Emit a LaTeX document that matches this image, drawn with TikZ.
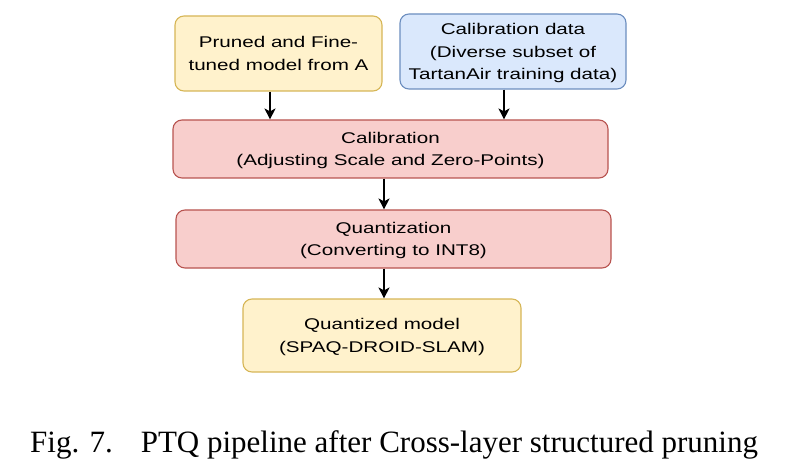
\documentclass[tikz,border=0pt]{standalone}
\usepackage{fontspec}
\setmainfont{Liberation Serif}
\setsansfont{Liberation Sans}
\newfontfamily\boxfont[FakeStretch=1.33]{Liberation Sans}
\usepackage{tikz}
\usetikzlibrary{arrows.meta}
\definecolor{yfill}{HTML}{FFF2CC}
\definecolor{ydraw}{HTML}{D6B656}
\definecolor{bfill}{HTML}{DAE8FC}
\definecolor{bdraw}{HTML}{6C8EBF}
\definecolor{rfill}{HTML}{F8CECC}
\definecolor{rdraw}{HTML}{B85450}
\tikzset{
  box/.style={rounded corners=9pt, line width=1.1pt, align=center, inner sep=0pt,
    text depth=0pt, font=\boxfont\fontsize{15.5}{22.5}\selectfont},
  ybox/.style={box, fill=yfill, draw=ydraw},
  bbox/.style={box, fill=bfill, draw=bdraw},
  rbox/.style={box, fill=rfill, draw=rdraw},
  arr/.style={line width=1.6pt, -{Stealth[length=11pt,width=11pt,inset=3pt]}}
}
\begin{document}
\begin{tikzpicture}[x=1pt,y=-1pt]
\useasboundingbox (0,0) rectangle (803,473);
% inputs
\node [ybox, minimum width=207pt, minimum height=75pt] (model) at (278.5,53.5) {Pruned and Fine-\\tuned model from A};
\node [bbox, minimum width=226pt, minimum height=75pt] (calibdata) at (513,51.5) {Calibration data\\(Diverse subset of\\TartanAir training data)};
% pipeline
\node [rbox, minimum width=435pt, minimum height=58pt] (calib) at (390.5,149) {Calibration\\(Adjusting Scale and Zero-Points)};
\node [rbox, minimum width=435pt, minimum height=58pt] (quant) at (393.5,239) {Quantization\\(Converting to INT8)};
\node [ybox, minimum width=278pt, minimum height=73pt] (qmodel) at (382,335.5) {Quantized model\\(SPAQ-DROID-SLAM)};
% arrows
\draw [arr] ([xshift=-8.5pt]model.south) -- ([xshift=-8.5pt]model.south |- calib.north);
\draw [arr] ([xshift=-9pt]calibdata.south) -- ([xshift=-9pt]calibdata.south |- calib.north);
\draw [arr] ([xshift=-6.5pt]calib.south) -- ([xshift=-6.5pt]calib.south |- quant.north);
\draw [arr] ([xshift=-9.5pt]quant.south) -- ([xshift=-9.5pt]quant.south |- qmodel.north);
% caption
\node [anchor=base west, inner sep=0pt, font=\fontsize{31}{34}\selectfont] (caption) at (30,452) {Fig. 7.\hspace{0.9em}PTQ pipeline after Cross-layer structured pruning};
\end{tikzpicture}
\end{document}
